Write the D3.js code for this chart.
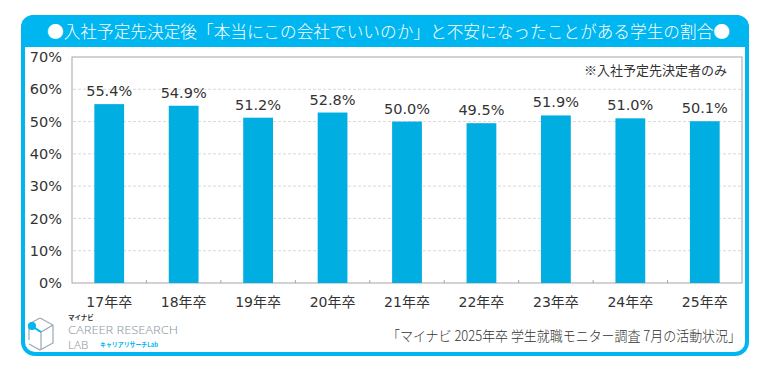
<!DOCTYPE html>
<html><head><meta charset="utf-8">
<script src="https://cdn.jsdelivr.net/npm/d3@7"></script>
<style>
body{margin:0;background:#fff;}
svg{display:block;font-family:"Noto Sans CJK JP","Noto Sans",sans-serif;}
</style></head>
<body><svg id="c" width="777" height="371"></svg>
<script>
const categories = ["17年卒","18年卒","19年卒","20年卒","21年卒","22年卒","23年卒","24年卒","25年卒"];
const values = [55.4, 54.9, 51.2, 52.8, 50.0, 49.5, 51.9, 51.0, 50.1];
const yTicks = [0,10,20,30,40,50,60,70];
const title = "●入社予定先決定後「本当にこの会社でいいのか」と不安になったことがある学生の割合●";
const note = "※入社予定先決定者のみ";
const source = "「マイナビ 2025年卒 学生就職モニター調査 7月の活動状況」";

const blue = "#00b6f0", barColor = "#00aee2";
const numFont = "'DejaVu Sans','Noto Sans CJK JP',sans-serif";
const svg = d3.select("#c");

// card
svg.append("rect").attr("x",23).attr("y",17).attr("width",724).attr("height",337)
  .attr("rx",12).attr("fill","#fff").attr("stroke",blue).attr("stroke-width",4);
// header band
const hp = d3.path();
hp.moveTo(21,47); hp.lineTo(21,27); hp.arcTo(21,15,33,15,12); hp.lineTo(737,15);
hp.arcTo(749,15,749,27,12); hp.lineTo(749,47); hp.closePath();
svg.append("path").attr("d",hp.toString()).attr("fill",blue);
svg.append("text").attr("x",388.5).attr("y",37.5).attr("text-anchor","middle")
  .attr("fill","#fff").attr("font-size",16.5).attr("font-weight",300)
  .attr("textLength",683).attr("lengthAdjust","spacingAndGlyphs").text(title);

// plot
const x = d3.scaleBand().domain(categories).range([72,742]).paddingInner(0.6).paddingOuter(0.3);
const y = d3.scaleLinear().domain([0,70]).range([283,57]);

const g = svg.append("g");
g.selectAll("line.grid").data(yTicks.filter(t=>t>0 && t<70)).join("line")
  .attr("x1",73).attr("x2",741).attr("y1",d=>y(d)).attr("y2",d=>y(d))
  .attr("stroke","#d9d9d9").attr("stroke-dasharray","3,2").attr("stroke-width",1);
g.append("rect").attr("x",72).attr("y",57).attr("width",670).attr("height",226)
  .attr("fill","none").attr("stroke","#a6a6a6").attr("stroke-width",1);

g.selectAll("rect.bar").data(values).join("rect").attr("class","bar")
  .attr("x",(d,i)=>x(categories[i])).attr("width",x.bandwidth())
  .attr("y",d=>y(d)).attr("height",d=>y(0)-y(d)).attr("fill",barColor);

g.selectAll("text.val").data(values).join("text")
  .attr("x",(d,i)=>x(categories[i])+x.bandwidth()/2).attr("y",d=>y(d)-8)
  .attr("text-anchor","middle").attr("font-size",14.5).attr("fill","#333")
  .attr("font-family",numFont).text(d=>d.toFixed(1)+"%");

const yAxis = d3.axisLeft(y).tickValues(yTicks).tickFormat(d=>d+"%").tickSize(0).tickPadding(10);
const ya = svg.append("g").attr("transform","translate(72,0)").call(yAxis);
ya.select(".domain").remove();
ya.selectAll("text").attr("font-size",14.5).attr("fill","#333").attr("font-family",numFont);

const xAxis = d3.axisBottom(x).tickSize(0).tickPadding(14);
const xa = svg.append("g").attr("transform","translate(0,283)").call(xAxis);
xa.select(".domain").remove();
xa.selectAll("text").attr("font-size",14).attr("fill","#333").attr("font-family",numFont);
g.selectAll("line.sep").data(categories.slice(1)).join("line")
  .attr("x1",(d,i)=>72+(i+1)*670/9).attr("x2",(d,i)=>72+(i+1)*670/9)
  .attr("y1",283).attr("y2",280).attr("stroke","#a6a6a6");

svg.append("text").attr("x",727).attr("y",75).attr("text-anchor","end")
  .attr("font-size",13).attr("fill","#333").text(note);

svg.append("text").attr("x",741).attr("y",341).attr("text-anchor","end")
  .attr("font-size",14).attr("fill","#333").attr("font-weight",300)
  .attr("textLength",354).attr("lengthAdjust","spacingAndGlyphs").text(source);

// logo
const lg = svg.append("g");
const cube = lg.append("g").attr("fill","none").attr("stroke","#9aa8b4").attr("stroke-width",1.2);
cube.append("path").attr("d","M40,318 L53,325 L53,343 L40,350 L29,344");
cube.append("path").attr("d","M40,318 L29,324 L29,340");
cube.append("path").attr("d","M29,324 L41,332 L53,325 M41,332 L41,349");
lg.append("line").attr("x1",33).attr("y1",327).attr("x2",41).attr("y2",332).attr("stroke",blue).attr("stroke-width",2);
lg.append("circle").attr("cx",32).attr("cy",326).attr("r",4).attr("fill",blue);
lg.append("text").attr("x",68).attr("y",320).attr("font-size",6.5).attr("font-weight","bold").attr("fill","#333").text("マイナビ");
lg.append("text").attr("x",68).attr("y",334).attr("font-size",11.5).attr("fill","#8d9aa6")
  .attr("font-family","'Noto Sans',sans-serif").attr("font-weight",300)
  .attr("textLength",110).attr("lengthAdjust","spacingAndGlyphs").text("CAREER RESEARCH");
lg.append("text").attr("x",68).attr("y",348.5).attr("font-size",11.5).attr("fill","#8d9aa6")
  .attr("font-family","'Noto Sans',sans-serif").attr("font-weight",300).text("LAB");
lg.append("text").attr("x",100).attr("y",346.5).attr("font-size",6.5).attr("font-weight","bold").attr("fill",blue)
  .attr("textLength",58).attr("lengthAdjust","spacingAndGlyphs").text("キャリアリサーチLab");
</script></body></html>
